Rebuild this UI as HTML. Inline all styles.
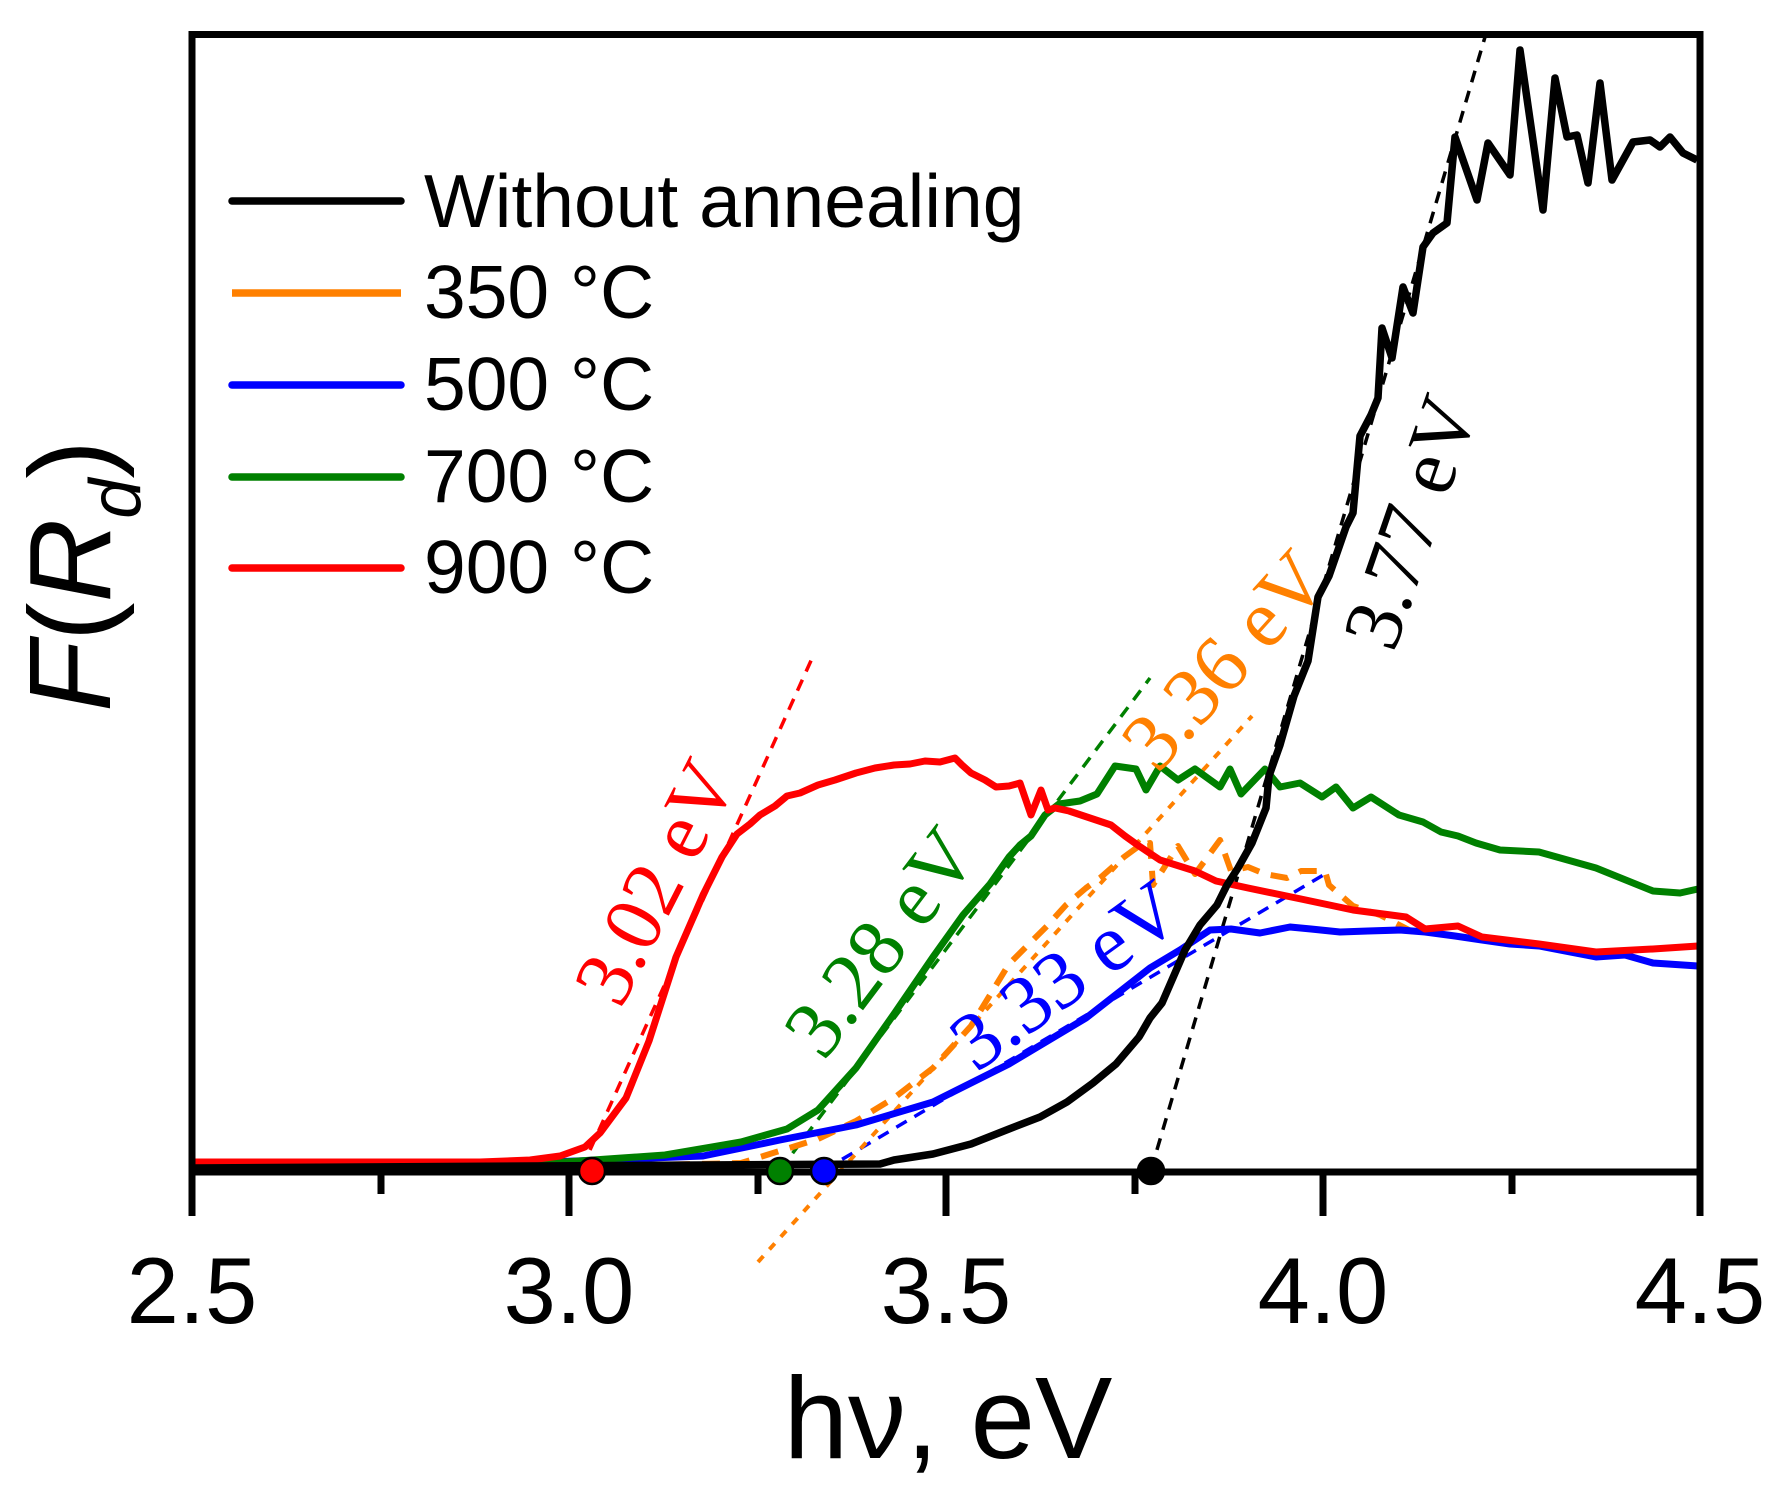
<!DOCTYPE html>
<html>
<head>
<meta charset="utf-8">
<style>
  html,body{margin:0;padding:0;background:#fff;}
  svg{display:block;}
  .tick{font-family:"Liberation Sans",Arial,sans-serif;font-size:94px;fill:#000;}
  .leg{font-family:"Liberation Sans",Arial,sans-serif;font-size:75px;fill:#000;}
  .ann{font-family:"Liberation Serif","Times New Roman",serif;font-size:82px;font-style:normal;}
</style>
</head>
<body>
<svg width="1787" height="1493" viewBox="0 0 1787 1493" xmlns="http://www.w3.org/2000/svg">
  <rect x="0" y="0" width="1787" height="1493" fill="#fff"/>

  <!-- tangent lines -->
  <g fill="none" stroke-width="3.5" stroke-dasharray="12 9">
    <line x1="590" y1="1150" x2="814" y2="654" stroke="#ff0000"/>
    <line x1="780" y1="1170" x2="1150" y2="678" stroke="#008000"/>
    <line x1="824" y1="1170" x2="1325" y2="874" stroke="#0000ff"/>
    <line x1="1151" y1="1170" x2="1485" y2="37" stroke="#000"/>
  </g>
  <line x1="758" y1="1262" x2="1252" y2="716" stroke="#ff8000" stroke-width="4" stroke-dasharray="8 9" fill="none"/>

  <!-- orange data (350 C) -->
  <path d="M192,1167 L600,1166 L741,1163 L818,1139 L856,1121 L894,1098 L933,1068 L971,1026 L1009,964 L1047,926 L1066,905 L1086,888 L1100,878 L1124,857 L1139,846 L1150,843 L1153,885 L1178,846 L1195,874 L1220,840 L1231,871 L1248,867 L1265,874 L1287,878 L1301,871 L1325,871 L1329,885 L1353,906 L1380,915 L1413,932"
        fill="none" stroke="#ff8000" stroke-width="6" stroke-dasharray="18 12" stroke-linejoin="round"/>

  <!-- blue data (500 C) -->
  <path d="M192,1166 L550,1162 L703,1156 L780,1140 L856,1125 L933,1102 L1009,1064 L1086,1018 L1150,968 L1180,950 L1210,930 L1231,929 L1260,933 L1290,927 L1311,929 L1340,932 L1368,931 L1400,930 L1425,932 L1455,936 L1482,940 L1510,944 L1539,946 L1570,952 L1596,957 L1625,955 L1653,963 L1698,966"
        fill="none" stroke="#0000ff" stroke-width="7" stroke-linejoin="round"/>

  <!-- green data (700 C) -->
  <path d="M192,1165 L550,1163 L665,1155 L741,1142 L787,1129 L818,1110 L856,1068 L894,1014 L933,957 L963,915 L990,884 L1009,857 L1020,845 L1031,836 L1045,815 L1059,804 L1080,801 L1097,794 L1115,766 L1136,769 L1146,790 L1160,766 L1178,780 L1195,769 L1220,787 L1230,769 L1241,794 L1265,769 L1280,787 L1300,783 L1322,797 L1336,787 L1353,808 L1371,797 L1399,815 L1423,822 L1441,832 L1458,836 L1476,843 L1500,850 L1539,852 L1596,868 L1653,891 L1680,893 L1698,889"
        fill="none" stroke="#008000" stroke-width="7" stroke-linejoin="round"/>

  <!-- red data (900 C) -->
  <path d="M192,1162 L480,1162 L530,1160 L560,1156 L585,1147 L600,1133 L626,1098 L649,1041 L676,957 L703,895 L722,857 L737,834 L750,824 L760,815 L775,806 L787,796 L800,793 L818,785 L835,780 L856,773 L875,768 L894,765 L910,764 L925,761 L940,762 L955,758 L962,765 L971,773 L985,780 L996,787 L1009,786 L1020,783 L1031,815 L1041,790 L1048,810 L1055,808 L1069,811 L1090,818 L1111,825 L1125,836 L1139,846 L1160,860 L1195,871 L1216,881 L1248,888 L1301,899 L1353,910 L1406,917 L1425,929 L1458,926 L1482,937 L1539,944 L1596,952 L1653,949 L1698,946"
        fill="none" stroke="#ff0000" stroke-width="7" stroke-linejoin="round"/>

  <!-- black data (without annealing) -->
  <path d="M192,1168 L880,1164 L894,1160 L933,1154 L971,1144 L1009,1129 L1040,1117 L1067,1102 L1093,1083 L1116,1064 L1139,1037 L1150,1018 L1162,1003 L1185,950 L1200,925 L1217,905 L1227,885 L1238,868 L1252,843 L1266,808 L1269,776 L1280,745 L1294,696 L1308,661 L1318,597 L1329,576 L1346,527 L1353,513 L1360,436 L1371,415 L1378,398 L1382,328 L1392,358 L1403,287 L1413,313 L1423,247 L1433,233 L1447,223 L1455,137 L1477,200 L1488,143 L1510,175 L1520,50 L1543,210 L1555,78 L1567,137 L1577,135 L1588,183 L1600,83 L1612,180 L1633,142 L1650,140 L1660,147 L1670,137 L1683,153 L1697,160"
        fill="none" stroke="#000" stroke-width="7.5" stroke-linejoin="round"/>

  <!-- frame -->
  <rect x="192" y="34.5" width="1508" height="1137.5" fill="none" stroke="#000" stroke-width="7"/>

  <!-- ticks -->
  <g stroke="#000" stroke-width="7">
    <line x1="192" y1="1172" x2="192" y2="1216"/>
    <line x1="569" y1="1172" x2="569" y2="1216"/>
    <line x1="946" y1="1172" x2="946" y2="1216"/>
    <line x1="1323" y1="1172" x2="1323" y2="1216"/>
    <line x1="1700" y1="1172" x2="1700" y2="1216"/>
    <line x1="381" y1="1172" x2="381" y2="1194"/>
    <line x1="758" y1="1172" x2="758" y2="1194"/>
    <line x1="1135" y1="1172" x2="1135" y2="1194"/>
    <line x1="1512" y1="1172" x2="1512" y2="1194"/>
  </g>

  <!-- dots -->
  <g stroke="#000" stroke-width="2.5">
    <circle cx="592" cy="1171" r="13" fill="#ff0000"/>
    <circle cx="780" cy="1171" r="13" fill="#008000"/>
    <circle cx="824" cy="1171" r="13" fill="#0000ff"/>
    <circle cx="1151" cy="1171" r="13" fill="#000"/>
  </g>

  <!-- tick labels -->
  <g class="tick" text-anchor="middle">
    <text x="192" y="1323">2.5</text>
    <text x="569" y="1323">3.0</text>
    <text x="946" y="1323">3.5</text>
    <text x="1323" y="1323">4.0</text>
    <text x="1700" y="1323">4.5</text>
  </g>

  <!-- axis labels -->
  <text x="948" y="1458" text-anchor="middle" font-family="'Liberation Sans',Arial,sans-serif" font-size="116">hν, eV</text>
  <text transform="translate(110,576) rotate(-90)" text-anchor="middle" font-family="'Liberation Sans',Arial,sans-serif" font-size="116"><tspan font-style="italic">F</tspan>(<tspan font-style="italic">R</tspan><tspan font-style="italic" font-size="72" dy="30">d</tspan><tspan dy="-30">)</tspan></text>

  <!-- legend -->
  <g stroke-width="7.5" stroke-linecap="round">
    <line x1="232" y1="201" x2="401" y2="201" stroke="#000"/>
    <line x1="232" y1="293" x2="401" y2="293" stroke="#ff8000" stroke-linecap="butt"/>
    <line x1="232" y1="385" x2="401" y2="385" stroke="#0000ff"/>
    <line x1="232" y1="477" x2="401" y2="477" stroke="#008000"/>
    <line x1="232" y1="568" x2="401" y2="568" stroke="#ff0000"/>
  </g>
  <g class="leg">
    <text x="424" y="227">Without annealing</text>
    <text x="424" y="318">350 °C</text>
    <text x="424" y="410">500 °C</text>
    <text x="424" y="502">700 °C</text>
    <text x="424" y="593">900 °C</text>
  </g>

  <!-- annotations -->
  <g class="ann" text-anchor="middle" dominant-baseline="central">
    <text transform="translate(655,882) rotate(-63)" fill="#ff0000">3.02 eV</text>
    <text transform="translate(880,942) rotate(-53)" fill="#008000">3.28 eV</text>
    <text transform="translate(1065,975) rotate(-36)" fill="#0000ff">3.33 eV</text>
    <text transform="translate(1224,660) rotate(-48)" fill="#ff8000">3.36 eV</text>
    <text transform="translate(1410,522) rotate(-71)" fill="#000">3.77 eV</text>
  </g>
</svg>
</body>
</html>
